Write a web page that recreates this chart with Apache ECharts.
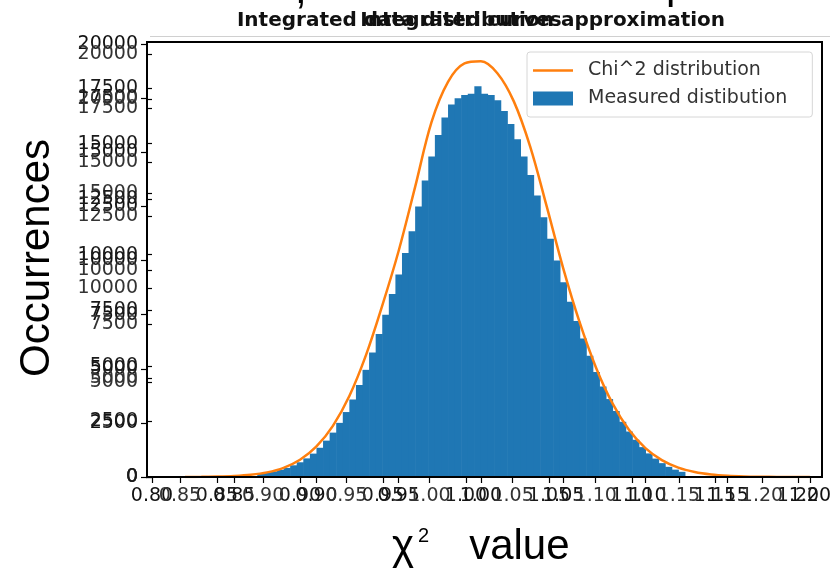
<!DOCTYPE html>
<html>
<head>
<meta charset="utf-8">
<script src="https://cdn.jsdelivr.net/npm/echarts@6/dist/echarts.min.js"></script>
<style>
html,body{margin:0;padding:0;background:#fff;}
#chart{width:834px;height:574px;}
</style>
</head>
<body>
<div id="chart"></div>
<script>
// ---- text ----
const titleMain = 'Integrated data distribution approximation';
const titleOverlay = 'Integrated curves';
const yAxisName = 'Occurrences';
const xAxisSymbol = 'χ';
const xAxisPower = '2';
const xAxisWord = 'value';
const curveName = 'Chi^2 distribution';
const histName = 'Measured distibution';

// ---- chi^2 reference curve, sampled every 0.01 ----
const curveX = [0.82,0.83,0.84,0.85,0.86,0.87,0.88,0.89,0.90,0.91,0.92,0.93,0.94,0.95,0.96,0.97,0.98,0.99,
                1.00,1.01,1.02,1.03,1.04,1.05,1.06,1.07,1.08,1.09,1.10,1.11,1.12,1.13,1.14,1.15,1.16,1.17,1.18,1.19,1.20];
const curveY = [3,8,19,46,102,214,425,796,1413,2364,3742,5604,7914,10450,13400,16400,18250,19100,
                19200,18650,17350,15250,12500,9650,7150,5050,3400,2180,1335,780,432,229,115,55,25,11,4,2,1];

// ---- measured histogram ----
const binStart = 0.864;
const binWidth = 0.004;
const counts = [150,200,260,330,420,540,680,860,1080,1350,1680,2050,2500,3000,3580,4250,4950,5750,6600,7500,
                8450,9350,10350,11350,12500,13700,14800,15800,16600,17200,17500,17650,17700,18050,17700,17650,
                17400,16900,16300,15600,14800,13950,13000,12000,11000,10000,9000,8100,7200,6400,5600,4850,4180,
                3600,3050,2550,2100,1720,1380,1090,850,640,470,340,240];

// ---- axis tick sets (three x frames and four y frames drawn on top of each other) ----
const xTicksMain  = {min: 0.80, max: 1.20, step: 0.05, digits: 2};
const xTicksLate  = {min: 0.85, max: 1.20, step: 0.05, digits: 2};
const xTicksEarly = {min: 0.85, max: 1.20, step: 0.05, digits: 2};
const yTicksMain   = {min: 0, max: 20000, step: 2500};
const yTicksRaised = {min: 5000, max: 20000, step: 2500};
const yTicksCoarse = {min: 0, max: 20000, step: 5000};
const yTicksShort  = {min: 0, max: 17500, step: 2500};

const tickFont = 'DejaVu Sans';
const bigFont = '"Liberation Sans"';
const chart = echarts.init(document.getElementById('chart'), null, {renderer: 'canvas'});

const histData = counts.map((c, i) => [binStart + i * binWidth, binStart + (i + 1) * binWidth, c]);
const curveData = curveX.map((x, i) => [x, curveY[i]]);

function hiddenAxis(gridIndex) {
  return {type: 'value', gridIndex, show: false, min: 0, max: 1};
}

function yLabelAxis(gridIndex, t, color) {
  return {
    type: 'value', gridIndex, min: t.min, max: t.max, interval: t.step, offset: 5,
    axisLine: {show: false},
    axisTick: {show: true, length: 6, lineStyle: {color: '#000', width: 1.2}},
    splitLine: {show: false},
    axisLabel: {fontFamily: tickFont, fontSize: 19, color, margin: 9,
                formatter: v => String(Math.round(v))}
  };
}

function xLabelAxis(gridIndex, t, color) {
  return {
    type: 'value', gridIndex, min: t.min, max: t.max, interval: t.step,
    axisLine: {show: false},
    axisTick: {show: true, length: 6, lineStyle: {color: '#000', width: 1.2}},
    splitLine: {show: false},
    axisLabel: {fontFamily: tickFont, fontSize: 19, color, margin: 10,
                formatter: v => v.toFixed(t.digits)}
  };
}

const option = {
  backgroundColor: '#fff',
  animation: false,
  title: [
    {text: titleMain, left: 476, top: 6, textAlign: 'center',
     textStyle: {fontFamily: tickFont, fontSize: 20, fontWeight: 'bold', color: '#111'}},
    {text: titleOverlay, left: 456, top: 6, textAlign: 'center',
     textStyle: {fontFamily: tickFont, fontSize: 20, fontWeight: 'bold', color: '#111'}}
  ],
  legend: {
    left: 527, top: 52, orient: 'vertical',
    padding: [9, 25, 9, 6], itemGap: 9, itemWidth: 40, itemHeight: 14,
    backgroundColor: 'rgba(255,255,255,0.85)', borderColor: '#d6d6d6', borderWidth: 1, borderRadius: 3,
    textStyle: {fontFamily: tickFont, fontSize: 19, color: '#333', padding: [0, 0, 0, 10]},
    data: [
      {name: curveName, icon: 'path://M0,6 L40,6 L40,8.5 L0,8.5 Z'},
      {name: histName, icon: 'rect'}
    ]
  },
  grid: [
    // 0: outer frame
    {left: 147, top: 42, width: 675, height: 435, show: true, borderColor: '#000', borderWidth: 2,
     backgroundColor: 'transparent', containLabel: false, z: 10},
    // 1: data area
    {left: 152, right: 21, top: 44, bottom: 97, containLabel: false},
    // 2-3: shifted x tick frames
    {left: 217, right: 36, top: 44, bottom: 97, containLabel: false},
    {left: 180, right: 72, top: 44, bottom: 97, containLabel: false},
    // 4-6: shifted y tick frames
    {left: 152, right: 21, top: 54, bottom: 196, containLabel: false},
    {left: 152, right: 21, top: 99, bottom: 97, containLabel: false},
    {left: 152, right: 21, top: 88, bottom: 97, containLabel: false}
  ],
  xAxis: [
    hiddenAxis(0),
    xLabelAxis(1, xTicksMain, '#111'),
    xLabelAxis(2, xTicksLate, '#1a1a1a'),
    xLabelAxis(3, xTicksEarly, '#333'),
    hiddenAxis(4),
    hiddenAxis(5),
    hiddenAxis(6)
  ],
  yAxis: [
    hiddenAxis(0),
    yLabelAxis(1, yTicksMain, '#111'),
    hiddenAxis(2),
    hiddenAxis(3),
    yLabelAxis(4, yTicksRaised, '#333'),
    yLabelAxis(5, yTicksCoarse, '#333'),
    yLabelAxis(6, yTicksShort, '#1a1a1a')
  ],
  graphic: [
    // edge of the frame sitting just above the plot
    {type: 'line', shape: {x1: 150, y1: 36.5, x2: 830, y2: 36.5}, style: {stroke: '#d0d0d0', lineWidth: 1}},
    {type: 'text', left: 295, top: -30, style: {text: ',', font: '42px ' + bigFont, fill: '#000'}},
    {type: 'text', left: 666, top: -35, style: {text: 'p', font: '42px ' + bigFont, fill: '#000'}},
    {type: 'text', x: 37, y: 258, rotation: Math.PI / 2,
     style: {text: yAxisName, font: '42px ' + bigFont, fill: '#000', align: 'center', verticalAlign: 'middle'}},
    {type: 'text', left: 392, top: 526,
     style: {
       text: '{s|' + xAxisSymbol + '}{p|' + xAxisPower + '}{w|' + xAxisWord + '}',
       rich: {
         s: {font: '42px ' + bigFont, fill: '#000', verticalAlign: 'bottom'},
         p: {font: '20px ' + bigFont, fill: '#000', verticalAlign: 'top', padding: [0, 0, 22, 4]},
         w: {font: '42px ' + bigFont, fill: '#000', padding: [0, 0, 0, 40]}
       }
     }}
  ],
  series: [
    {
      name: histName, type: 'custom', xAxisIndex: 1, yAxisIndex: 1,
      itemStyle: {color: '#1f77b4'},
      encode: {x: [0, 1], y: 2},
      data: histData,
      renderItem: function (params, api) {
        const p0 = api.coord([api.value(0), 0]);
        const p1 = api.coord([api.value(1), api.value(2)]);
        return {
          type: 'rect',
          shape: {x: p0[0], y: p1[1], width: p1[0] - p0[0] + 0.6, height: p0[1] - p1[1]},
          style: {fill: '#1f77b4'}
        };
      },
      z: 2
    },
    {
      name: curveName, type: 'line', xAxisIndex: 1, yAxisIndex: 1,
      data: curveData, smooth: 0.35, showSymbol: false, symbol: 'none',
      lineStyle: {color: '#ff7f0e', width: 2.5}, itemStyle: {color: '#ff7f0e'},
      z: 3
    }
  ]
};

chart.setOption(option);
</script>
</body>
</html>
